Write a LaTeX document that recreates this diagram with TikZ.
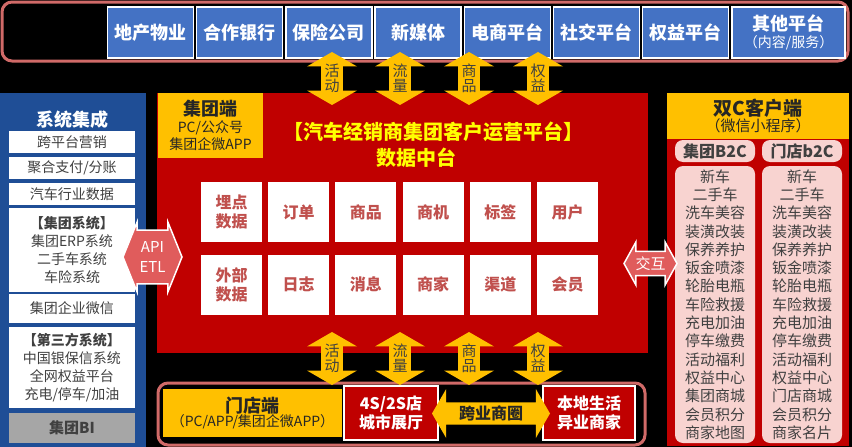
\documentclass[tikz,border=0pt]{standalone}
\usepackage{fontspec}
\setmainfont{Noto Sans CJK SC}
\usetikzlibrary{shapes.arrows}
\definecolor{topblue}{HTML}{4472C4}
\definecolor{sideblue}{HTML}{1F4E96}
\definecolor{darkred}{HTML}{C00000}
\definecolor{gold}{HTML}{FFC000}
\definecolor{rim}{HTML}{D06A68}
\definecolor{softred}{HTML}{E05C5C}
\definecolor{gridtext}{HTML}{C0504D}
\definecolor{listpink}{HTML}{F8D3D0}
\definecolor{textgray}{HTML}{404040}
\definecolor{bigray}{HTML}{A6A6A6}
\definecolor{titleyellow}{HTML}{FFFF00}
\newcommand{\sz}[2]{\fontsize{#1}{#2}\selectfont}

\tikzset{
  cell/.style={inner sep=0pt, align=center},
  partner/.style={cell, fill=topblue, draw=white, line width=1.5pt, text=white,
    font=\bfseries\sz{18}{20}, minimum width=86pt, minimum height=51pt},
  rimbox/.style={draw=rim, line width=3pt, rounded corners=10pt, fill=black},
  sysitem/.style={cell, fill=white, text=textgray, font=\sz{14}{18}, minimum width=126pt},
  gridbox/.style={cell, fill=white, text=gridtext, font=\bfseries\sz{16}{19},
    minimum width=61pt, minimum height=60pt},
  flow/.style={double arrow, shape border rotate=90, fill=gold, text=textgray,
    font=\sz{15}{15}, double arrow head extend=10pt, double arrow tip angle=120,
    minimum height=53pt, minimum width=50pt, inner sep=0pt, align=center},
  link/.style={double arrow, fill=softred, draw=white, line width=1.5pt, text=white,
    font=\sz{15}{20}, inner sep=0pt, align=center},
  listbox/.style={cell, fill=listpink, rounded corners=8pt, text=textgray, minimum width=80pt},
  shopbox/.style={cell, fill=darkred, draw=white, line width=2pt, text=white,
    font=\bfseries\sz{16}{19}, minimum width=94pt, minimum height=54pt},
}

\begin{document}
\begin{tikzpicture}[x=1pt,y=-1pt]
  \fill[black] (0,0) rectangle (852,447);
  \useasboundingbox (0,0) rectangle (852,447);

  % partner platforms
  \node[rimbox, minimum width=846pt, minimum height=59pt] (partners) at (425,31.5) {};
  \foreach \name [count=\i] in {地产物业,合作银行,保险公司,新媒体,电商平台,社交平台,权益平台}
    \node[partner] (p\i) at (61.3+89.2*\i,32.5) {\name};
  \node[partner, minimum width=113pt] (p8) at (788.5,32.5)
    {其他平台\\[-3pt]{\mdseries\sz{14}{16}（内容/服务）}};

  % system integration
  \node[cell, fill=sideblue, minimum width=146pt, minimum height=354pt, anchor=north west] (sys) at (0,93) {};
  \node[text=white, font=\bfseries\sz{18}{20}] (systitle) at (72,120) {系统集成};
  \node[sysitem, minimum height=22pt] (s1) at (72,142) {跨平台营销};
  \node[sysitem, minimum height=22pt] (s2) at (72,168) {聚合支付/分账};
  \node[sysitem, minimum height=22pt] (s3) at (72,194) {汽车行业数据};
  \node[sysitem, minimum height=84pt] (s4) at (72,250)
    {\textbf{【集团系统】}\\集团ERP系统\\二手车系统\\车险系统};
  \node[sysitem, minimum height=29pt] (s5) at (72,308.5) {集团企业微信};
  \node[sysitem, minimum height=81pt] (s6) at (72,367.5)
    {\textbf{【第三方系统】}\\中国银保信系统\\全网权益平台\\充电/停车/加油};
  \node[sysitem, fill=bigray, minimum height=30pt, font=\bfseries\sz{15}{18}] (bi) at (72,428) {集团BI};

  % data hub
  \node[cell, fill=darkred, minimum width=491pt, minimum height=260pt, anchor=north west] (hub) at (157,93) {};
  \node[cell, fill=gold, text=black!85, font=\sz{14}{17}, minimum width=105pt, minimum height=65pt] (groupend)
    at (210.5,125.5) {{\bfseries\sz{18}{20}集团端}\\PC/公众号\\集团企微APP};
  \node[text=titleyellow, font=\bfseries\sz{20}{24}] (title) at (433.5,132) {【汽车经销商集团客户运营平台】};
  \node[text=titleyellow, font=\bfseries\sz{20}{24}] (subtitle) at (416,158) {数据中台};
  \foreach \txt [count=\i] in {{埋点\\数据},订单,商品,商机,标签,用户}
    \node[gridbox] (a\i) at (164.3+67.2*\i,212) {\txt};
  \foreach \txt [count=\i] in {{外部\\数据},日志,消息,商家,渠道,会员}
    \node[gridbox] (b\i) at (164.3+67.2*\i,284.5) {\txt};

  % dual C clients
  \node[cell, fill=darkred, minimum width=182pt, minimum height=307pt] (dualbody) at (758,292.5) {};
  \node[cell, fill=gold, text=black!85, minimum width=182pt, minimum height=46pt] (dualc) at (758,116)
    {{\bfseries\sz{19}{22}双C客户端}\\{\sz{15}{18}（微信小程序）}};
  \node[listbox, minimum height=22pt, font=\bfseries\sz{16}{18}] (grouphead) at (715,151) {集团B2C};
  \node[listbox, minimum height=277pt, font=\sz{15}{18.3}] (grouplist) at (715,304.5)
    {新车\\二手车\\洗车美容\\装潢改装\\保养养护\\钣金喷漆\\轮胎电瓶\\车险救援\\充电加油\\停车缴费\\活动福利\\权益中心\\集团商城\\会员积分\\商家地图};
  \node[listbox, minimum height=22pt, font=\bfseries\sz{16}{18}] (storehead) at (802,151) {门店b2C};
  \node[listbox, minimum height=277pt, font=\sz{15}{18.3}] (storelist) at (802,304.5)
    {新车\\二手车\\洗车美容\\装潢改装\\保养养护\\钣金喷漆\\轮胎电瓶\\车险救援\\充电加油\\停车缴费\\活动福利\\权益中心\\门店商城\\会员积分\\商家名片};

  % stores
  \node[rimbox, minimum width=487pt, minimum height=62pt] (shops) at (401.5,414) {};
  \node[cell, fill=gold, text=black!85, minimum width=179pt, minimum height=48pt] (storeend) at (252.5,413)
    {{\bfseries\sz{18}{21}门店端}\\{\sz{14}{17}（PC/APP/集团企微APP）}};
  \node[shopbox] (showroom) at (391,413) {4S/2S店\\城市展厅};
  \node[shopbox, minimum width=92pt] (localbiz) at (589,413) {本地生活\\异业商家};
  \node[double arrow, fill=gold, text=black!85, font=\bfseries\sz{16}{18}, inner sep=0pt,
    minimum height=118pt, minimum width=49pt, double arrow head extend=9.5pt,
    double arrow tip angle=120] (crossarrow) at (491,413.5) {跨业商圈};

  % exchange arrows
  \foreach \x/\txt [count=\i] in {332/活\\动,400/流\\量,469/商\\品,538/权\\益} {
    \node[flow] (up\i) at (\x,78.5) {\txt};
    \node[flow] (down\i) at (\x,358.5) {\txt};
  }
  \node[link, minimum height=59pt, minimum width=70pt, double arrow head extend=5pt,
    double arrow tip angle=136] (api) at (152.5,257) {API\\ETL};
  \node[link, minimum height=53pt, minimum width=43pt, double arrow head extend=6pt,
    double arrow tip angle=122] (interact) at (650.5,263.5) {交互};
\end{tikzpicture}
\end{document}
